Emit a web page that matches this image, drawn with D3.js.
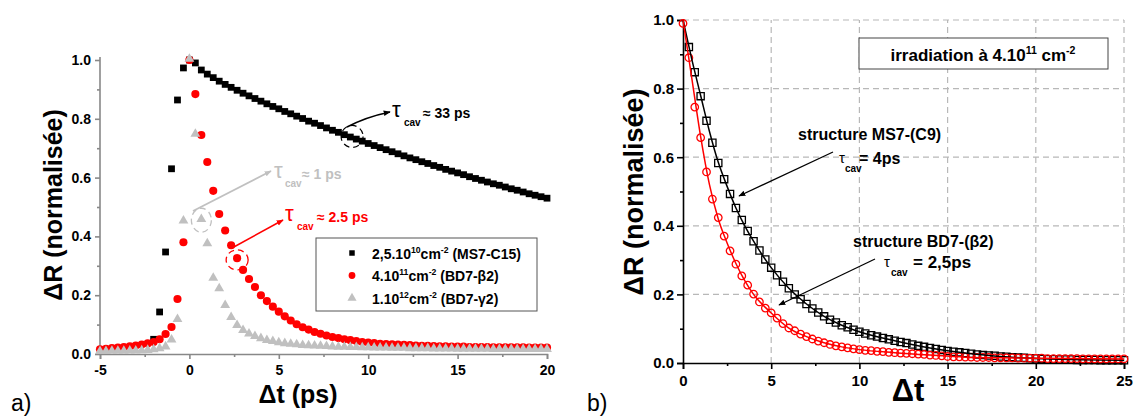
<!DOCTYPE html>
<html><head><meta charset="utf-8">
<script src="https://cdn.jsdelivr.net/npm/d3@7"></script>
<style>
body{margin:0;background:#fff}
svg{display:block}
text{font-family:"Liberation Sans",Arial,sans-serif}
</style></head>
<body><svg id="c" width="1137" height="417"></svg>
<script>
// ---------- LEFT PANEL DATA (a) ----------
const stepPs = 1/3;
const leftBlackStart = -2;
const leftBlack = [0.05,0.143,0.347,0.63,0.864,0.973,
 1.0,0.99,0.966,0.952,0.940,0.928,0.917,0.907,0.897,0.887,
 0.878,0.869,0.860,0.851,0.842,0.834,0.825,0.817,0.809,0.801,
 0.792,0.785,0.777,0.769,0.761,0.754,0.746,0.738,0.731,0.724,
 0.716,0.709,0.702,0.695,0.688,0.681,0.674,0.667,0.661,0.654,
 0.648,0.641,0.635,0.628,0.622,0.616,0.610,0.603,0.597,0.591,
 0.585,0.579,0.574,0.568,0.562,0.557,0.551,0.545,0.540,0.535,
 0.530];
const leftRedStart = -5;
const leftRed = [0.016,0.018,0.020,0.022,0.024,0.026,0.029,0.032,0.036,0.041,0.05,0.068,0.092,0.187,0.38,
 1.0,0.884,0.745,0.653,0.555,0.476,0.42,0.37,0.326,0.286,
 0.255,0.228,0.2,0.18,0.161,0.144,0.128,0.114,0.101,0.091,
 0.083,0.075,0.069,0.063,0.058,0.054,0.05,0.047,0.044,0.041,
 0.039,0.037,0.035,0.034,0.033,0.032,0.031,0.03,0.029,0.028,
 0.028,0.027,0.026,0.026,0.025,0.025,0.025,0.024,0.024,0.024,
 0.024,0.023,0.023,0.023,0.023,0.023,0.023,0.022,0.022,0.022,
 0.022];
const leftGreyStart = -5;
const leftGrey = [0.006,0.006,0.007,0.007,0.007,0.008,0.008,0.009,0.010,0.012,0.016,0.022,0.045,0.115,0.45,
 1.0,0.745,0.455,0.373,0.255,0.22,0.163,0.122,0.095,0.078,
 0.066,0.057,0.05,0.044,0.04,0.036,0.033,0.031,0.029,0.027,
 0.026,0.025,0.024,0.023,0.022,0.021,0.021,0.02,0.02,0.019,
 0.019,0.018,0.018,0.018,0.017,0.017,0.017,0.016,0.016,0.016,
 0.016,0.015,0.015,0.015,0.015,0.014,0.014,0.014,0.014,0.014,
 0.014,0.013,0.013,0.013,0.013,0.013,0.013,0.013,0.013,0.013,
 0.013];
const leftXTicks = [-5,0,5,10,15,20];
const leftXMinor = [-2.5,2.5,7.5,12.5,17.5];
const leftYTicks = [0,0.2,0.4,0.6,0.8,1.0];
const leftYMinor = [0.1,0.3,0.5,0.7,0.9];
const legendRows = [
  [["2,5.10",0],["10",1],["cm",0],["-2",1],[" (MS7-C15)",0]],
  [["4.10",0],["11",1],["cm",0],["-2",1],[" (BD7-β2)",0]],
  [["1.10",0],["12",1],["cm",0],["-2",1],[" (BD7-γ2)",0]]
];

// ---------- RIGHT PANEL DATA (b) ----------
const rightBlackStart = 1/3;
const rightBlack = [0.921,0.848,0.778,0.706,0.642,0.583,0.536,0.493,0.452,0.417,
 0.385,0.355,0.328,0.302,0.278,0.256,0.237,0.218,0.2,0.186,
 0.172,0.159,0.147,0.136,0.126,0.118,0.11,0.104,0.097,0.091,
 0.086,0.081,0.077,0.073,0.069,0.065,0.061,0.058,0.054,0.05,
 0.047,0.044,0.041,0.038,0.035,0.033,0.031,0.029,0.027,0.025,
 0.023,0.022,0.021,0.019,0.018,0.017,0.016,0.015,0.014,0.013,
 0.012,0.011,0.011,0.01,0.01,0.01,0.009,0.009,0.009,0.009,
 0.008,0.008,0.008,0.008,0.008];
const rightRedStart = 0;
const rightRed = [0.99,0.89,0.746,0.657,0.557,0.478,0.424,0.37,0.327,0.288,
 0.254,0.227,0.201,0.178,0.16,0.146,0.131,0.115,0.102,0.094,
 0.084,0.077,0.07,0.064,0.059,0.054,0.05,0.047,0.044,0.041,
 0.039,0.037,0.036,0.034,0.033,0.031,0.03,0.029,0.028,0.027,
 0.026,0.025,0.023,0.022,0.021,0.019,0.018,0.018,0.017,0.017,
 0.016,0.016,0.016,0.015,0.015,0.015,0.015,0.014,0.014,0.014,
 0.014,0.014,0.013,0.013,0.013,0.013,0.013,0.013,0.012,0.012,
 0.012,0.012,0.012,0.012,0.012,0.012];
const fitT     = [0,0.5,1,1.5,2,2.5,3,3.5,4,5,6,7,8,9,10,12,14,16,18,20,22,25];
const fitBlack = [1.0,0.885,0.78,0.675,0.585,0.515,0.452,0.40,0.355,0.278,0.218,0.172,0.136,0.11,0.091,0.065,0.044,0.029,0.019,0.013,0.01,0.008];
const fitRed   = [1.0,0.83,0.66,0.52,0.42,0.35,0.29,0.24,0.2,0.146,0.102,0.077,0.059,0.047,0.039,0.03,0.023,0.017,0.015,0.014,0.013,0.012];
const rightXTicks = [0,5,10,15,20,25];
const rightXMinor = [2.5,7.5,12.5,17.5,22.5];
const rightYTicks = [0,0.2,0.4,0.6,0.8,1.0];
const rightYMinor = [0.1,0.3,0.5,0.7,0.9];

// ---------- helpers ----------
const svg = d3.select('#c');
const toPts = (start, vals) => vals.map((v,i)=>({t:start+i*stepPs, v}));
const GREY = '#c0c0c0', RED = '#ff0000';

function rich(g, x, y, parts, size, fill, anchor){
  const t = g.append('text').attr('x',x).attr('y',y).attr('fill',fill)
    .attr('font-weight','bold').attr('font-size',size).attr('text-anchor',anchor||'start');
  let cur = 0;
  parts.forEach(([s,k])=>{
    const off = k===1 ? -size*0.42 : (k===-1 ? size*0.35 : 0);
    t.append('tspan').attr('dy', off-cur).attr('font-size', k===0?size:size*0.62).text(s);
    cur = off;
  });
  return t;
}

const defs = svg.append('defs');
[['arK','#000'],['arG',GREY],['arR',RED]].forEach(([id,c])=>{
  defs.append('marker').attr('id',id).attr('viewBox','0 0 10 10').attr('refX',9).attr('refY',5)
    .attr('markerWidth',7).attr('markerHeight',7).attr('orient','auto-start-reverse')
    .attr('markerUnits','userSpaceOnUse')
    .append('path').attr('d','M0,1 L10,5 L0,9 Z').attr('fill',c);
});

// ================= LEFT PANEL =================
const xL = d3.scaleLinear([-5,20],[100,547]);
const yL = d3.scaleLinear([0,1],[354,60]);
const gL = svg.append('g');

function styleAxis(g, color, w, fs){
  g.select('.domain').attr('stroke',color).attr('stroke-width',w);
  g.selectAll('.tick line').attr('stroke',color).attr('stroke-width',w);
  g.selectAll('.tick text').attr('fill','#000').attr('font-weight','bold')
    .attr('font-size',fs).attr('font-family','"Liberation Sans",Arial,sans-serif');
}
const axL = gL.append('g').attr('transform','translate(0,354)')
  .call(d3.axisBottom(xL).tickValues(leftXTicks).tickSize(5).tickPadding(6).tickFormat(d=>String(d)));
styleAxis(axL,'#888',1.6,14);
const axLm = gL.append('g').attr('transform','translate(0,354)')
  .call(d3.axisBottom(xL).tickValues(leftXMinor).tickSize(3).tickFormat(''));
axLm.select('.domain').remove(); axLm.selectAll('line').attr('stroke','#888').attr('stroke-width',1.6);
const ayL = gL.append('g').attr('transform','translate(100,0)')
  .call(d3.axisLeft(yL).tickValues(leftYTicks).tickSize(5).tickPadding(4).tickFormat(d3.format('.1f')));
styleAxis(ayL,'#888',1.6,14);
ayL.select('.domain').attr('d','M-0,354V57');
const ayLm = gL.append('g').attr('transform','translate(100,0)')
  .call(d3.axisLeft(yL).tickValues(leftYMinor).tickSize(3).tickFormat(''));
ayLm.select('.domain').remove(); ayLm.selectAll('line').attr('stroke','#888').attr('stroke-width',1.6);

// black dashed ellipse (behind markers)
gL.append('ellipse').attr('cx',xL(9.1)).attr('cy',yL(0.74)).attr('rx',11).attr('ry',11)
  .attr('fill','none').attr('stroke','#000').attr('stroke-width',1.2).attr('stroke-dasharray','6,4');

// markers
const sq = d3.symbol().type(d3.symbolSquare).size(46);
const ci = d3.symbol().type(d3.symbolCircle).size(52);
const tr = d3.symbol().type(d3.symbolTriangle).size(42);
gL.append('g').selectAll('path').data(toPts(leftBlackStart,leftBlack)).join('path')
  .attr('d',sq).attr('transform',d=>`translate(${xL(d.t)},${yL(d.v)})`).attr('fill','#000');
gL.append('g').selectAll('path').data(toPts(leftRedStart,leftRed)).join('path')
  .attr('d',ci).attr('transform',d=>`translate(${xL(d.t)},${yL(d.v)})`).attr('fill',RED);
gL.append('g').selectAll('path').data(toPts(leftGreyStart,leftGrey)).join('path')
  .attr('d',tr).attr('transform',d=>`translate(${xL(d.t)},${yL(d.v)-1})`).attr('fill',GREY);

// grey & red dashed ellipses
gL.append('ellipse').attr('cx',xL(0.67)).attr('cy',yL(0.455)).attr('rx',10).attr('ry',12)
  .attr('fill','none').attr('stroke',GREY).attr('stroke-width',1.3).attr('stroke-dasharray','6,4');
gL.append('ellipse').attr('cx',xL(2.67)).attr('cy',yL(0.32)).attr('rx',11).attr('ry',10)
  .attr('fill','none').attr('stroke',RED).attr('stroke-width',1.3).attr('stroke-dasharray','6,4');

// arrows
gL.append('path').attr('d','M347,127 Q366,117 390,112').attr('fill','none').attr('stroke','#000')
  .attr('stroke-width',1.5).attr('marker-end','url(#arK)');
gL.append('line').attr('x1',193).attr('y1',211).attr('x2',271).attr('y2',171).attr('stroke',GREY)
  .attr('stroke-width',1.8).attr('marker-end','url(#arG)');
gL.append('line').attr('x1',232).attr('y1',248).attr('x2',283).attr('y2',220).attr('stroke',RED)
  .attr('stroke-width',1.5).attr('marker-end','url(#arR)');

// tau labels
function tauLabel(g, x, y, rest, color, tauSize, subSize, restSize, subDx, restDx){
  g.append('text').attr('x',x).attr('y',y).attr('fill',color).attr('font-size',tauSize)
    .attr('font-family','"DejaVu Sans",sans-serif').text('τ');
  g.append('text').attr('x',x+subDx).attr('y',y+9).attr('fill',color).attr('font-size',subSize)
    .attr('font-weight','bold').text('cav');
  g.append('text').attr('x',x+restDx).attr('y',y+1).attr('fill',color).attr('font-size',restSize)
    .attr('font-weight','bold').text(rest);
}
tauLabel(gL,392,117,'≈ 33 ps','#000',22,10,14,12,31);
tauLabel(gL,274,178,'≈ 1 ps',GREY,22,10,14,11,28);
tauLabel(gL,285,221,'≈ 2.5 ps',RED,22,10,14,12,32);

// legend
gL.append('rect').attr('x',316).attr('y',238).attr('width',221).attr('height',73)
  .attr('fill','#fff').attr('stroke','#555').attr('stroke-width',1);
const legSyms = [
  d3.symbol().type(d3.symbolSquare).size(30),
  d3.symbol().type(d3.symbolCircle).size(36),
  d3.symbol().type(d3.symbolTriangle).size(36)];
const legCols = ['#000',RED,GREY];
legendRows.forEach((parts,i)=>{
  const yy = 253 + i*22.5;
  gL.append('path').attr('d',legSyms[i]).attr('transform',`translate(352,${yy})`).attr('fill',legCols[i]);
  rich(gL,372,yy+5.5,parts,14,'#000');
});

// axis titles
gL.append('text').attr('transform','translate(62,205) rotate(-90)').attr('text-anchor','middle')
  .attr('font-size',25).attr('font-weight','bold').text('ΔR (normalisée)');
gL.append('text').attr('x',298).attr('y',403).attr('text-anchor','middle')
  .attr('font-size',25).attr('font-weight','bold').text('Δt (ps)');
gL.append('text').attr('x',11).attr('y',411).attr('font-size',23)
  .attr('font-family','"Liberation Serif","Times New Roman",serif').text('a)');

// ================= RIGHT PANEL =================
const xR = d3.scaleLinear([0,25],[683,1124]);
const yR = d3.scaleLinear([0,1],[363,20]);
const gR = svg.append('g');

// grid
const gridC = '#b8b8b8';
gR.append('g').selectAll('line').data(rightXTicks.filter(d=>d>0)).join('line')
  .attr('x1',d=>xR(d)).attr('x2',d=>xR(d)).attr('y1',yR(0)).attr('y2',yR(1))
  .attr('stroke',gridC).attr('stroke-width',1.2).attr('stroke-dasharray','6,4');
gR.append('g').selectAll('line').data(rightYTicks.filter(d=>d>0)).join('line')
  .attr('x1',xR(0)).attr('x2',xR(25)).attr('y1',d=>yR(d)).attr('y2',d=>yR(d))
  .attr('stroke',gridC).attr('stroke-width',1.2).attr('stroke-dasharray','6,4');

// axes
const axR = gR.append('g').attr('transform','translate(0,363)')
  .call(d3.axisBottom(xR).tickValues(rightXTicks).tickSize(6).tickPadding(6).tickFormat(d=>String(d)));
styleAxis(axR,'#000',1.6,15);
const axRm = gR.append('g').attr('transform','translate(0,363)')
  .call(d3.axisBottom(xR).tickValues(rightXMinor).tickSize(3).tickFormat(''));
axRm.select('.domain').remove(); axRm.selectAll('line').attr('stroke','#000').attr('stroke-width',1.6);
const ayR = gR.append('g').attr('transform','translate(683,0)')
  .call(d3.axisLeft(yR).tickValues(rightYTicks).tickSize(6).tickPadding(3).tickFormat(d3.format('.1f')));
styleAxis(ayR,'#000',1.6,15);
const ayRm = gR.append('g').attr('transform','translate(683,0)')
  .call(d3.axisLeft(yR).tickValues(rightYMinor).tickSize(3).tickFormat(''));
ayRm.select('.domain').remove(); ayRm.selectAll('line').attr('stroke','#000').attr('stroke-width',1.6);

// markers
const sqR = d3.symbol().type(d3.symbolSquare).size(52);
const ciR = d3.symbol().type(d3.symbolCircle).size(44);
gR.append('g').selectAll('path').data(toPts(rightBlackStart,rightBlack)).join('path')
  .attr('d',sqR).attr('transform',d=>`translate(${xR(d.t)},${yR(d.v)})`)
  .attr('fill','none').attr('stroke','#000').attr('stroke-width',1.3);
gR.append('g').selectAll('path').data(toPts(rightRedStart,rightRed)).join('path')
  .attr('d',ciR).attr('transform',d=>`translate(${xR(d.t)},${yR(d.v)})`)
  .attr('fill','none').attr('stroke',RED).attr('stroke-width',1.3);

// fit lines
const line = (arr)=> d3.line().x((d,i)=>xR(fitT[i])).y(d=>yR(d)).curve(d3.curveMonotoneX)(arr);
gR.append('path').attr('d',line(fitBlack)).attr('fill','none').attr('stroke','#000').attr('stroke-width',1.5);
gR.append('path').attr('d',line(fitRed)).attr('fill','none').attr('stroke',RED).attr('stroke-width',1.5);

// box
gR.append('rect').attr('x',859).attr('y',38).attr('width',249).attr('height',31)
  .attr('fill','#fff').attr('stroke','#444').attr('stroke-width',1);
rich(gR,983,61,[['irradiation à 4.10',0],['11',1],[' cm',0],['-2',1]],17,'#000','middle');

// annotations
gR.append('text').attr('x',798).attr('y',140).attr('font-size',16).attr('font-weight','bold').text('structure MS7-(C9)');
tauLabel(gR,839,163,'= 4ps','#000',15,10,16,6,20);
gR.append('line').attr('x1',833).attr('y1',152).attr('x2',739).attr('y2',196)
  .attr('stroke','#000').attr('stroke-width',1.3).attr('marker-end','url(#arK)');
gR.append('text').attr('x',853).attr('y',247).attr('font-size',16).attr('font-weight','bold').text('structure BD7-(β2)');
tauLabel(gR,884,267,'= 2,5ps','#000',15,10,17,7,29);
gR.append('line').attr('x1',875).attr('y1',259).attr('x2',779).attr('y2',305)
  .attr('stroke','#000').attr('stroke-width',1.3).attr('marker-end','url(#arK)');

// titles
gR.append('text').attr('transform','translate(643,192) rotate(-90)').attr('text-anchor','middle')
  .attr('font-size',27).attr('font-weight','bold').text('ΔR (normalisée)');
gR.append('text').attr('x',908).attr('y',401).attr('text-anchor','middle')
  .attr('font-size',31).attr('font-weight','bold')
  .attr('font-family','"Liberation Serif","Times New Roman",serif').text('Δt');
gR.append('text').attr('x',587).attr('y',411).attr('font-size',23)
  .attr('font-family','"Liberation Serif","Times New Roman",serif').text('b)');
</script></body></html>
